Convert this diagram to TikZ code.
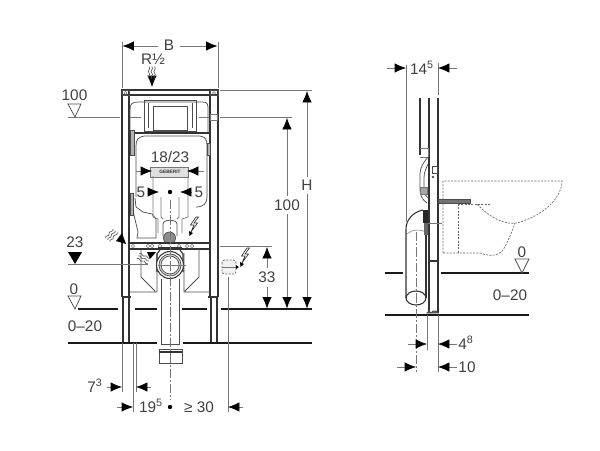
\documentclass[tikz,border=0pt]{standalone}
\usepackage{fontspec}
\setmainfont{Liberation Sans}
\usetikzlibrary{arrows.meta}
\definecolor{inkgray}{HTML}{404040}
\definecolor{midgray}{HTML}{777777}

\newcommand{\watersign}[2]{%
  \foreach \k in {0,2.8,5.6} {
    \draw[draw=black!65, line width=0.5pt, xshift=#1*0.75pt+\k*0.75pt, yshift=-#2*0.75pt]
      (0,-5.5) .. controls (2.5,-3) and (-2.5,-1) .. (0,1) .. controls (2.5,3) and (-2.5,4) .. (0,6.5);
  }}
\newcommand{\boltsign}[2]{%
  \draw[draw=black!80, line width=0.5pt, fill=white, xshift=#1*0.75pt, yshift=-#2*0.75pt]
    (3,-9) -- (-2.5,-1) -- (1,-1) -- (-2,6) -- (4.5,-3) -- (1,-3) -- (5.5,-9) -- cycle;
  \fill[black, xshift=#1*0.75pt, yshift=-#2*0.75pt] (-4,5) -- (0,7) -- (-3.5,10) -- cycle;}

\begin{document}
\begin{tikzpicture}[
x=0.75pt, y=-0.75pt,
wall/.style={draw=black!80, line width=0.8pt},
body/.style={draw=black!70, line width=0.55pt},
thinline/.style={draw=midgray, line width=0.4pt},
guide/.style={draw=midgray, line width=0.55pt},
center/.style={draw=midgray, line width=0.5pt, dash pattern=on 7pt off 1.5pt on 1.5pt off 1.5pt},
hidden/.style={draw=black!60, line width=0.5pt, dash pattern=on 1.5pt off 1pt},
floorline/.style={draw=black!90, line width=1pt},
dimarrow/.style={draw=midgray, line width=0.5pt, -{Latex[length=8.5pt, width=7pt, black]}},
lab/.style={inner sep=0pt, text=inkgray, font=\fontsize{11.5}{12}\selectfont},
]
\useasboundingbox (0,0) rectangle (600,450);

%Labels left view
\node[lab] (widthlab)  at (169,45)  {B};
\node[lab] (pipelab)   at (153,59)  {R½};
\node[lab] (topfix)    at (74.5,95) {100};
\node[lab] (actlab)    at (170,157) {18/23};
\node[lab] (leftfive)  at (141,192) {5};
\node[lab] (rightfive) at (199,192) {5};
\node[lab] (heightlab) at (307,185) {H};
\node[lab] (bighund)   at (287,205) {100};
\node[lab] (drainlab)  at (75,242)  {23};
\node[lab] (elevlab)   at (267,277) {33};
\node[lab] (zerolab)   at (74,289)  {0};
\node[lab] (rangelab)  at (85,326)  {0--20};
\node[lab] (legwlab)   at (95,386)  {7\textsuperscript{3}};
\node[lab] (halflab)   at (151,406) {19\textsuperscript{5}};
\node[lab] (sidelab)   at (199,407) {≥ 30};

%Labels side view
\node[lab] (depthlab)  at (422,68)  {14\textsuperscript{5}};
\node[lab] (szerolab)  at (522,252) {0};
\node[lab] (srangelab) at (510,295) {0--20};
\node[lab] (footlab)   at (466,343) {4\textsuperscript{8}};
\node[lab] (pipedlab)  at (467,367) {10};

%Frame
\draw[wall] (122,297) -- (122,90) -- (218,90) -- (218,297);
\draw[wall] (129,297) -- (129,90);
\draw[wall] (210,297) -- (210,90);
\draw[wall] (122,95) -- (218,95);
\draw[wall] (123,343) -- (123,297) (129,343) -- (129,297);
\draw[wall] (211,343) -- (211,297) (217,343) -- (217,297);
\draw[wall] (122,297) -- (131,297) (208,297) -- (218,297);
\draw[body] (122,90) rectangle (129,95) (210,90) rectangle (218,95);
\draw[thinline] (125.5,93) circle (1.5) (214,93) circle (1.5);
\draw[floorline] (122,343) -- (136,343) (203,343) -- (218,343);

%Cistern and actuator plate
\draw[body] (130,133) -- (130,110) .. controls (130,104) and (132,102) .. (138,102) -- (202,102)
  .. controls (208,102) and (208,104) .. (208,110) -- (208,133);
\draw[body] (144,100) rectangle (196,131);
\draw[body] (153,106) rectangle (187,130);
\draw[body] (148,103) -- (148,128) (192,103) -- (192,128);
\draw[wall] (130,133) -- (210,133);
\draw[body] (136,197) -- (136,146) .. controls (136,140) and (138,137) .. (144,136) -- (200,136)
  .. controls (206,137) and (207,140) .. (207,146) -- (207,197)
  .. controls (207,203) and (204,207) .. (196,207);
\draw[body, fill=black!30] (130,130) rectangle (134,155);
\draw[body, fill=black!30] (207,143) rectangle (210,155);
\draw[guide] (136,171) -- (153,171) (187,171) -- (204,171);
\draw[thinline] (130,117) -- (141,117) (199,117) -- (209,117);
\draw[thinline] (210,114) rectangle (217,120);
\draw[thinline, fill=black!12] (150,167) rectangle (188,177);
\node[inner sep=0pt, text=black!80, font=\fontsize{3.6}{4}\bfseries\selectfont] (brandlab) at (170,172) {GEBERIT};

%Lower installation
\draw[body] (131,197) -- (134,215) -- (138,232) (135,198) -- (136,207) -- (143,212) -- (152,214) -- (156,219) -- (156,238) -- (137,238) -- (138,232);
\draw[body, fill=black!30] (130,193) rectangle (133,215);
\draw[guide] (153,176) -- (153,217) -- (158,219) -- (158,233);
\draw[guide] (161,197) -- (161,217) -- (163,219);
\draw[guide] (179,197) -- (179,217) -- (177,219);
\draw[guide] (188,176) -- (188,217) -- (182,219) -- (182,233);
\draw[body] (163,236) -- (163,224) .. controls (163,219) and (177,219) .. (177,224) -- (177,236);
\draw[body, fill=black!45] (169.5,238) circle (6);
\boltsign{193}{226}

%Cross bar and boxes
\draw[wall] (129,243) -- (210,243);
\draw[wall] (129,249) -- (210,249);
\foreach \cx in {133,148,152,160,179,187,192} {
  \draw[thinline] (\cx,246) circle (1.8);
}
\draw[body] (130,292) -- (157,292) -- (157,253) (141,249) -- (141,277) -- (155,291);
\draw[body] (210,292) -- (184,292) -- (184,253) (199,249) -- (199,277) -- (185,291);

%Elbow and drain pipe
\draw[body] (161,279) -- (161,344) -- (179,344) -- (179,279);
\draw[wall] (160,250) -- (157,254) -- (157,272) (180,250) -- (183,254) -- (183,272);
\draw[wall] (158,248) -- (182,248);
\draw[wall, fill=white] (170,265) circle (13.5);
\draw[body, fill=black!15] (170,265) circle (11);
\draw[body, fill=white] (170,265) circle (9);
\draw[body] (159,349) rectangle (182,363);
\draw[wall] (159,352) -- (182,352);

%Centre lines
\draw[center] (170,200) -- (170,400);
\draw[guide] (158,265) -- (186,265);
\fill[black] (170,192) circle (2.2);
\fill[black] (170,407) circle (2.2);

%Floor and levels
\draw[floorline] (78,309) -- (118,309) (135,309) -- (157,309) (182,309) -- (207,309) (221,309) -- (312,309);
\draw[floorline] (68,343) -- (157,343) (183,343) -- (312,343);
\draw[guide] (68,117) -- (120,117) (220,117) -- (292,117);
\draw[guide] (220,90) -- (312,90);
\draw[guide] (68,264) -- (148,264);
\draw[guide] (220,246) -- (272,246);
\draw[guide] (122,42) -- (122,88) (218,42) -- (218,88);
\draw[guide] (122,343) -- (122,392) (133,343) -- (133,412) (136,343) -- (136,392);
\draw[guide] (228,277) -- (228,412);

%Level triangles
\draw[guide, draw=black!70, fill=white] (68,104) -- (81,104) -- (75,117) -- cycle;
\draw[guide, draw=black!70, fill=white] (68,296) -- (81,296) -- (75,309) -- cycle;
\fill[black] (68,252) -- (82,252) -- (75,264) -- cycle;

%Dimensions left view
\draw[dimarrow] (158,46) -- (122.5,46);
\draw[dimarrow] (180,46) -- (217.5,46);
\draw[dimarrow] (152,78) -- (152,87);
\draw[dimarrow] (137,171) -- (152,171);
\draw[dimarrow] (203,171) -- (187,171);
\draw[dimarrow] (148,192) -- (159,192);
\draw[dimarrow] (192,192) -- (180,192);
\draw[dimarrow] (307,177) -- (307,91);
\draw[dimarrow] (307,194) -- (307,308.5);
\draw[dimarrow] (287,196) -- (287,118);
\draw[dimarrow] (287,214) -- (287,308.5);
\draw[dimarrow] (267,268) -- (267,247);
\draw[dimarrow] (267,287) -- (267,308.5);
\draw[dimarrow] (107,387) -- (122,387);
\draw[dimarrow] (151,387) -- (136,387);
\draw[dimarrow] (117,407) -- (133,407);
\draw[dimarrow] (243,407) -- (228,407);

%Water and power signs
\watersign{149}{72}
\begin{scope}[rotate around={-40:(112,235)}]
\watersign{109}{235}
\end{scope}
\fill[black] (126,244) -- (116,241) -- (122,233) -- cycle;
\begin{scope}[rotate around={65:(143,258)}]
\watersign{140}{258}
\end{scope}
\fill[black] (147,252) -- (156,252) -- (150,259) -- cycle;

%Outlet box
\draw[hidden, rounded corners=2pt, fill=black!5] (222,260) rectangle (236,274);
\draw[thinline] (222,267) -- (236,267);
\fill[black] (236,265) -- (239,267) -- (236,269) -- cycle;
\boltsign{244}{257}

%Side view frame
\draw[wall] (420,98) -- (420,155);
\draw[wall] (429,98) -- (429,313);
\draw[wall] (438,98) -- (438,313);
\draw[wall] (429,261) -- (438,261);
\draw[body, fill=black!60] (427,313) -- (429,311) -- (431,313) -- (433,311) -- (436,311) -- (438,313) -- cycle;

%Side view flush tube
\draw[thinline] (420,148) -- (428,148) -- (428,157);
\draw[thinline] (420,157) -- (428,157);
\draw[body] (428,157) .. controls (424,162) and (420,167) .. (420,174) -- (420,190) .. controls (420,197) and (424,201) .. (427,203);
\draw[body] (428,164) .. controls (426,169) and (424,172) .. (424,178) -- (424,190) .. controls (424,194) and (426,196) .. (428,198);
\draw[thinline, fill=black!35] (420,187) rectangle (427,194);
\draw[body] (432,166) rectangle (437,173);
\fill[black!70] (433,177) circle (1.3);
\draw[body, fill=black!55] (438,199) rectangle (470,203);

%Side view drain pipe
\draw[wall] (406,298) -- (406,229) .. controls (406,220) and (413,212) .. (423,210);
\draw[wall] (426,298) -- (426,235);
\draw[wall] (416,298) ellipse (10 and 7);
\draw[thinline] (407,234) .. controls (412,229) and (420,229) .. (426,232);
\fill[black!85] (423,210) rectangle (428,223);
\fill[black!60] (424,223) rectangle (428,235);
\draw[guide] (428,223) -- (442,223);

%Toilet
\draw[hidden] (443,253) -- (443,181) -- (562,181) .. controls (562,195) and (548,214) .. (517,223)
  .. controls (505,225) and (490,218) .. (477,204);
\draw[hidden] (458,204) -- (491,204) (458,204) -- (458,253);
\draw[hidden] (443,253) -- (480,253) .. controls (488,256) and (497,257) .. (503,250) .. controls (507,243) and (511,235) .. (515,223);

%Side view floor
\draw[floorline] (385,273) -- (403,273) (441,273) -- (529,273);
\draw[floorline] (385,315) -- (529,315);
\draw[guide, draw=black!70, fill=white] (515,259) -- (529,259) -- (522,273) -- cycle;

%Dimensions side view
\draw[guide] (406,65) -- (406,222) (438,63) -- (438,95);
\draw[center] (416,232) -- (416,372);
\draw[guide] (427,315) -- (427,350) (438,315) -- (438,372);
\draw[dimarrow] (387,68) -- (406,68);
\draw[dimarrow] (457,68) -- (438,68);
\draw[dimarrow] (408,344) -- (427,344);
\draw[dimarrow] (457,344) -- (438,344);
\draw[dimarrow] (397,367) -- (416,367);
\draw[dimarrow] (457,367) -- (438,367);
\end{tikzpicture}
\end{document}
